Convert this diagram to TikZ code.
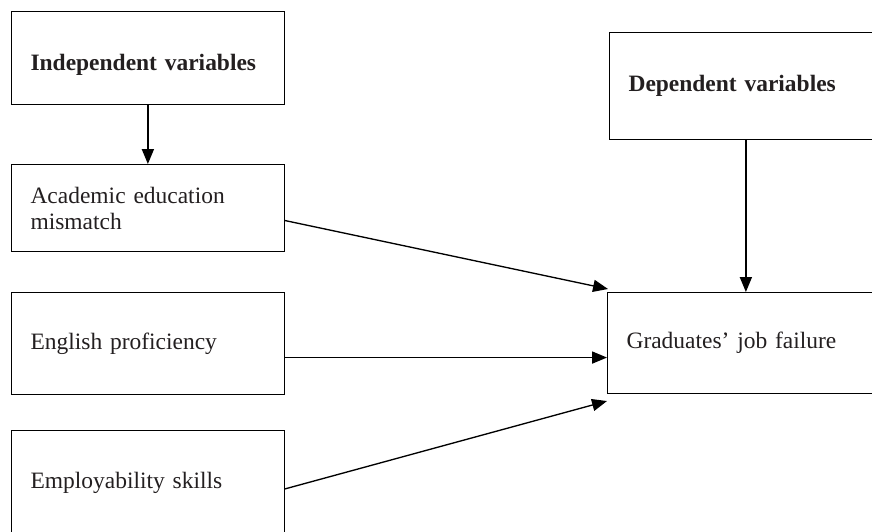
\documentclass[tikz,border=0pt]{standalone}
\usepackage{fontspec}
\setmainfont{Liberation Serif}
\usepackage{xcolor}
\usetikzlibrary{arrows.meta,calc}

\definecolor{txt}{RGB}{35,31,32}

\tikzset{
 varbox/.style={draw, line width=0.6pt, rectangle, anchor=north west, align=left,
   text width=132pt, inner xsep=10.7pt, inner ysep=0pt, text=txt, font=\fontsize{13.2}{14.6}\selectfont},
 arr/.style={line width=0.75pt, -{Triangle[length=8.4pt,width=6.8pt]}}
}

\begin{document}
\begin{tikzpicture}[x=0.5625pt,y=-0.5625pt]
 \useasboundingbox (0,0) rectangle (872,532);
 \clip (0,0) rectangle (872,532);

 \coordinate (o1) at (11,11);
 \coordinate (o2) at (11,164);
 \coordinate (o3) at (11,292);
 \coordinate (o4) at (11,430);
 \coordinate (o5) at (609,32);
 \coordinate (o6) at (607,292);

\node [varbox, minimum height=52.3pt, text height=14pt, text depth=0pt] (indep) at (o1) {\textbf{Independent variables}};
\node [varbox, minimum height=48.9pt] (acad) at (o2) {Academic education\\mismatch};
\node [varbox, minimum height=57.4pt] (eng) at (o3) {English proficiency};
\node [varbox, minimum height=59pt] (empl) at (o4) {Employability skills};
\node [varbox, minimum height=60.2pt] (dep) at (o5) {\textbf{Dependent variables}};
\node [varbox, minimum height=56.8pt] (grad) at (o6) {Graduates’ job failure};

\draw[arr] (indep.south)--(acad.north);
\draw[arr] (dep.south)--(dep.south |- grad.north);

\draw[arr] ($(acad.east)+(0,12.5)$)--($(grad.north west)+(1,-3)$);
\draw[arr] ($(eng.east)+(0,14)$) coordinate (e1)--(e1 -| grad.west);
\draw[arr] ($(empl.east)+(0,6)$)--($(grad.south west)+(0,7)$);

\end{tikzpicture}
\end{document}
